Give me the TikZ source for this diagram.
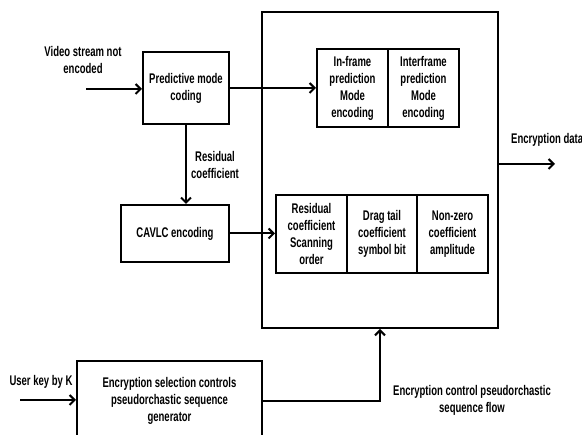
\documentclass[tikz,border=0pt]{standalone}
\usepackage{fontspec}
\setmainfont{Liberation Sans}[FakeStretch=0.68]
\usetikzlibrary{arrows.meta}

\begin{document}
\begin{tikzpicture}[x=1pt, y=-1pt, font=\bfseries\fontsize{14}{17}\selectfont,
  blk/.style={draw, line width=2pt, align=center, inner sep=2pt},
  cell/.style={blk, minimum width=71pt, minimum height=78pt},
  lbl/.style={align=center},
  flow/.style={-{Straight Barb[length=5pt,width=10pt]}, line width=2pt}]
\useasboundingbox (0,0) rectangle (582,435);

% Outer encryption unit
\node[blk, minimum width=236pt, minimum height=316pt] (unit) at (380,170) {};

% Prediction mode cells
\node[cell] (intra) at (352.5,88) {In-frame\\prediction\\Mode\\encoding};
\node[cell] (inter) at (423.5,88) {Interframe\\prediction\\Mode\\encoding};

% Residual cells
\node[cell] (scan) at (311.5,234) {Residual\\coefficient\\Scanning\\order};
\node[cell, minimum width=70pt] (sign) at (382,234) {Drag tail\\coefficient\\symbol bit};
\node[cell] (ampl) at (452.5,234) {Non-zero\\coefficient\\amplitude};

% Coding stages
\node[blk, minimum width=86pt, minimum height=72pt] (pmc) at (186,88) {Predictive mode\\coding};
\node[blk, minimum width=108pt, minimum height=57pt] (cavlc) at (175,233.5) {CAVLC encoding};

% Key stream generator
\node[blk, minimum width=185pt, minimum height=80pt] (gen) at (169.5,401) {Encryption selection controls\\pseudorchastic sequence\\generator};

% Free ends
\coordinate (vin) at (86,89);
\coordinate (kin) at (20,400);
\coordinate (dout) at (555,164);

% Labels
\node[lbl] (tvin) at (83,60) {Video stream not\\encoded};
\node[lbl] (tres) at (215,165) {Residual\\coefficient};
\node[lbl, anchor=west, inner sep=0pt] (tout) at (511,140) {Encryption data};
\node[lbl] (tkey) at (41,382) {User key by K};
\node[lbl] (tctl) at (472,400) {Encryption control pseudorchastic\\sequence flow};

% Connectors
\draw[flow] (vin) -- (pmc.west |- vin);
\draw[flow] (pmc.east |- intra.west) -- (intra.west);
\draw[flow] (pmc.south) -- (pmc.south |- cavlc.north);
\draw[flow] (cavlc.east) -- (scan.west |- cavlc.east);
\draw[flow] (unit.east |- dout) -- (dout);
\draw[flow] (kin) -- (gen.west |- kin);
\draw[flow] (gen.east) -| (unit.south);
\end{tikzpicture}
\end{document}
